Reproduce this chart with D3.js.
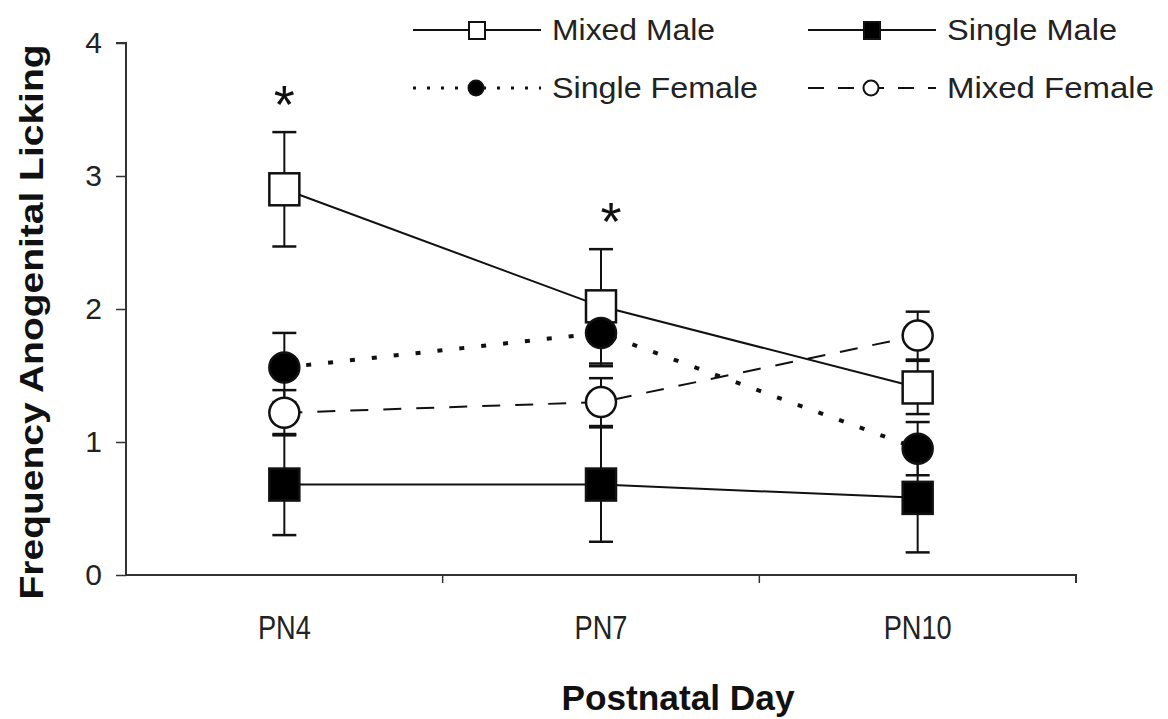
<!DOCTYPE html>
<html>
<head>
<meta charset="utf-8">
<script src="https://cdn.jsdelivr.net/npm/d3@7"></script>
<style>
  body { margin: 0; background: #fff; }
  text { font-family: "Liberation Sans", Arial, sans-serif; fill: #111; }
</style>
</head>
<body>
<svg id="chart"></svg>
<script>
// 画布尺寸
const width = 1168;
const height = 719;

// 数据
const days = ["PN4", "PN7", "PN10"];
const seriesNames = ["Mixed Male", "Single Male", "Single Female", "Mixed Female"];
const mixedMale = [2.90, 2.02, 1.41];
const mixedMaleErr = [0.43, 0.43, 0.20];
const singleMale = [0.68, 0.68, 0.58];
const singleMaleErr = [0.38, 0.43, 0.41];
const singleFemale = [1.56, 1.82, 0.95];
const singleFemaleErr = [0.26, 0.25, 0.20];
const mixedFemale = [1.22, 1.30, 1.80];
const mixedFemaleErr = [0.17, 0.18, 0.18];
const yTicks = [0, 1, 2, 3, 4];
const starDays = ["PN4", "PN7"];

const series = [
  { name: seriesNames[0], values: mixedMale, err: mixedMaleErr, shape: "square", fill: "#fff", style: "solid" },
  { name: seriesNames[1], values: singleMale, err: singleMaleErr, shape: "square", fill: "#000", style: "solid" },
  { name: seriesNames[2], values: singleFemale, err: singleFemaleErr, shape: "circle", fill: "#000", style: "dot" },
  { name: seriesNames[3], values: mixedFemale, err: mixedFemaleErr, shape: "circle", fill: "#fff", style: "dash" }
];

const svg = d3.select("#chart")
  .attr("width", width)
  .attr("height", height);

// 比例尺
const x = d3.scaleBand()
  .domain(days)
  .range([126, 1076])
  .padding(0);

const y = d3.scaleLinear()
  .domain([0, 4])
  .range([575, 43]);

const cx = d => x(d) + x.bandwidth() / 2;

// 文字压缩（原图字体偏窄/偏宽）
function squeeze(sel, k) {
  sel.each(function () {
    const w = this.getComputedTextLength();
    d3.select(this).attr("textLength", w * k).attr("lengthAdjust", "spacingAndGlyphs");
  });
}

// y 轴
const yAxis = svg.append("g")
  .attr("transform", "translate(126,0)")
  .call(d3.axisLeft(y).tickValues(yTicks).tickSize(10).tickPadding(14).tickFormat(d3.format("d")));
yAxis.select(".domain").attr("stroke", "#333").attr("stroke-width", 2).attr("d", "M0,575V43H-10");
yAxis.selectAll(".tick line").attr("stroke", "#333").attr("stroke-width", 1.5);
yAxis.selectAll(".tick text")
  .style("font-size", "30px")
  .style("fill", "#222");

// x 轴
const xAxis = svg.append("g")
  .attr("transform", "translate(0,575)")
  .call(d3.axisBottom(x).tickSize(0).tickPadding(40));
xAxis.select(".domain").attr("stroke", "#333").attr("stroke-width", 2).attr("d", "M126,0H1076V8");
xAxis.selectAll(".tick text")
  .style("font-size", "34px")
  .style("fill", "#222")
  .call(squeeze, 0.8);

// x 轴分隔刻度
const bounds = days.slice(1).map(d => x(d));
svg.selectAll(".sep-tick")
  .data(bounds)
  .enter()
  .append("line")
  .attr("class", "sep-tick")
  .attr("x1", d => d).attr("x2", d => d)
  .attr("y1", 575).attr("y2", 583)
  .attr("stroke", "#333")
  .attr("stroke-width", 1.5);

// 轴标题
svg.append("text")
  .attr("transform", "translate(43,322) rotate(-90)")
  .attr("text-anchor", "middle")
  .style("font-size", "34px")
  .style("font-weight", "bold")
  .attr("textLength", 555)
  .attr("lengthAdjust", "spacingAndGlyphs")
  .text("Frequency Anogenital Licking");

svg.append("text")
  .attr("x", 678)
  .attr("y", 710)
  .attr("text-anchor", "middle")
  .style("font-size", "35px")
  .style("font-weight", "bold")
  .attr("textLength", 233)
  .attr("lengthAdjust", "spacingAndGlyphs")
  .text("Postnatal Day");

// 折线
const dashFor = { solid: null, dot: "5,17", dash: "18,15" };
const line = d3.line()
  .x((d, i) => cx(days[i]))
  .y(d => y(d));

series.forEach(s => {
  svg.append("path")
    .datum(s.values)
    .attr("fill", "none")
    .attr("stroke", "#111")
    .attr("stroke-width", s.style === "dot" ? 4 : 2)
    .attr("stroke-dasharray", dashFor[s.style])
    .attr("d", line);
});

// 误差线
series.forEach(s => {
  const g = svg.append("g");
  s.values.forEach((v, i) => {
    const px = cx(days[i]);
    const lo = y(v - s.err[i]);
    const hi = y(v + s.err[i]);
    g.append("line").attr("x1", px).attr("x2", px).attr("y1", lo).attr("y2", hi)
      .attr("stroke", "#111").attr("stroke-width", 2);
    [lo, hi].forEach(yy => {
      g.append("line").attr("x1", px - 12).attr("x2", px + 12).attr("y1", yy).attr("y2", yy)
        .attr("stroke", "#111").attr("stroke-width", 2.5);
    });
  });
});

// 标记
series.forEach(s => {
  const g = svg.append("g");
  s.values.forEach((v, i) => {
    const px = cx(days[i]);
    const py = y(v);
    if (s.shape === "square") {
      g.append("rect")
        .attr("x", px - 15).attr("y", py - 16)
        .attr("width", 30).attr("height", 32)
        .attr("fill", s.fill)
        .attr("stroke", "#111")
        .attr("stroke-width", 2.5);
    } else {
      g.append("circle")
        .attr("cx", px).attr("cy", py).attr("r", 15)
        .attr("fill", s.fill)
        .attr("stroke", "#111")
        .attr("stroke-width", 2.5);
    }
  });
});

// 显著性星号
svg.selectAll(".star")
  .data(starDays)
  .enter()
  .append("text")
  .attr("class", "star")
  .attr("x", d => cx(d) + (d === "PN7" ? 10 : 0))
  .attr("y", d => {
    const i = days.indexOf(d);
    return y(mixedMale[i] + mixedMaleErr[i]) - 9;
  })
  .attr("text-anchor", "middle")
  .style("font-size", "54px")
  .text("*");

// 图例
const legendPos = [
  { lx: 413, ly: 30, tw: 163 },
  { lx: 808, ly: 30, tw: 170 },
  { lx: 413, ly: 88, tw: 206 },
  { lx: 808, ly: 88, tw: 207 }
];
const legendDash = { solid: null, dot: "3,11", dash: "16,14" };
series.forEach((s, i) => {
  const p = legendPos[i];
  const g = svg.append("g").attr("transform", `translate(${p.lx},${p.ly})`);
  g.append("line")
    .attr("x1", 0).attr("x2", 128).attr("y1", 0).attr("y2", 0)
    .attr("stroke", "#111")
    .attr("stroke-width", s.style === "dot" ? 3 : 2)
    .attr("stroke-dasharray", legendDash[s.style]);
  if (s.shape === "square") {
    g.append("rect").attr("x", 56).attr("y", -8).attr("width", 16).attr("height", 17)
      .attr("fill", s.fill).attr("stroke", "#111").attr("stroke-width", 2);
  } else {
    g.append("circle").attr("cx", 63).attr("cy", 0).attr("r", 7.5)
      .attr("fill", s.fill).attr("stroke", "#111").attr("stroke-width", 2);
  }
  g.append("text")
    .attr("x", 139).attr("y", 0)
    .attr("dy", "0.36em")
    .style("font-size", "29px")
    .style("fill", "#222")
    .attr("textLength", p.tw)
    .attr("lengthAdjust", "spacingAndGlyphs")
    .text(s.name);
});
</script>
</body>
</html>
